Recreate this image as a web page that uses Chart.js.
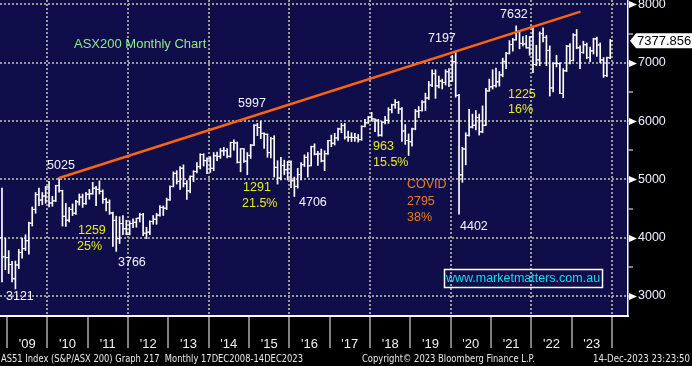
<!DOCTYPE html>
<html><head><meta charset="utf-8">
<script src="https://cdn.jsdelivr.net/npm/chart.js@4.4.1/dist/chart.umd.min.js"></script>
<style>html,body{margin:0;padding:0;background:#000;overflow:hidden}#wrap{position:relative;width:692px;height:366px}</style>
</head><body><div id="wrap"><canvas id="c" width="692" height="366"></canvas></div>
<script>
// ---- DATA (monthly OHLC, ASX200, Nov-2008 .. Dec-2023) ----
const startYear = 2008, startMonth = 11;
const opens = [4000,3672,
 3659,3540,3296,3532,3745,3813,3948,4249,4484,4739,4646,4715,
 4870,4596,4632,4893,4807,4367,4301,4485,4420,4616,4697,4584,
 4745,4753,4849,4829,4795,4656,4608,4424,4297,3984,4243,4152,
 4057,4244,4264,4335,4396,4076,4095,4278,4316,4387,4519,4506,
 4649,4879,5104,4967,5191,4926,4803,5052,5135,5218,5426,5321,
 5352,5190,5405,5395,5489,5492,5396,5633,5625,5293,5526,5313,
 5411,5588,5929,5891,5790,5774,5459,5699,5207,5022,5239,5166,
 5296,4977,4881,5083,5253,5378,5233,5562,5433,5436,5317,5440,
 5666,5621,5712,5865,5924,5724,5721,5720,5715,5682,5909,5970,
 6065,6037,6016,5759,5982,6012,6195,6280,6320,6208,5830,5667,
 5646,5865,6169,6181,6326,6397,6619,6813,6604,6688,6663,6846,
 6684,7017,6441,5077,5522,5756,5898,5928,6061,5816,5928,6518,
 6587,6607,6673,6791,7025,7162,7313,7393,7535,7332,7324,7256,
 7445,6971,7049,7500,7435,7212,6568,6993,6986,6474,6863,7284,
 7039,7476,7258,7178,7309,7091,7203,7410,7305,7049,6781,7087];
const highs = [4850,3990,
 3779,3593,3600,3800,3995,4050,4270,4527,4775,4850,4775,4880,
 4968,4710,4900,5025,4815,4590,4520,4580,4640,4750,4750,4780,
 4830,4950,4880,4975,4820,4680,4650,4440,4370,4360,4380,4300,
 4290,4325,4335,4420,4420,4180,4290,4380,4420,4550,4545,4680,
 4890,5130,5150,5220,5250,4980,5060,5150,5290,5440,5440,5370,
 5390,5460,5470,5530,5550,5530,5640,5680,5640,5530,5530,5460,
 5600,5940,5960,5997,5800,5780,5720,5750,5320,5380,5330,5310,
 5320,5040,5190,5290,5420,5460,5570,5610,5480,5520,5490,5670,
 5760,5790,5880,5960,5960,5830,5800,5790,5770,5920,6030,6080,
 6150,6040,6030,5990,6080,6230,6290,6370,6340,6230,5940,5780,
 5880,6200,6250,6350,6480,6680,6880,6880,6770,6720,6880,6900,
 7130,7197,6460,5550,5800,6200,6120,6180,6120,6260,6560,6720,
 6880,6910,6850,7080,7180,7380,7420,7632,7540,7450,7470,7450,
 7600,7300,7530,7600,7470,7290,7000,7130,7000,6900,7300,7330,
 7500,7570,7290,7370,7340,7270,7420,7440,7340,7090,7100,7400];
const lows = [3240,3450,
 3385,3240,3121,3470,3650,3780,3719,4200,4420,4549,4565,4590,
 4530,4540,4620,4780,4200,4195,4270,4380,4400,4560,4520,4570,
 4660,4745,4550,4750,4590,4460,4400,3850,3766,3900,4050,4050,
 4050,4170,4180,4270,4035,3985,4050,4230,4230,4370,4380,4480,
 4640,4870,4920,4830,4870,4656,4770,4960,5110,5180,5230,5100,
 5120,5150,5320,5360,5410,5370,5380,5500,5280,5130,5290,5080,
 5360,5580,5750,5700,5530,5380,5370,5040,4920,4990,5080,4990,
 4860,4706,4850,4990,5220,5040,5230,5420,5240,5300,5150,5430,
 5560,5590,5670,5800,5690,5650,5650,5650,5640,5670,5900,5960,
 6000,5820,5740,5740,5950,5960,6140,6220,6130,5650,5600,5410,
 5570,5850,6060,6170,6180,6370,6590,6390,6570,6550,6620,6590,
 6680,6410,4402,4950,5250,5740,5880,5850,5760,5800,5920,6510,
 6550,6580,6600,6760,6900,7150,7200,7390,7240,7290,7250,7130,
 6830,6950,6950,7360,6950,6430,6500,6930,6470,6400,6850,6980,
 7030,7240,6900,7160,7070,7020,7150,7110,7000,6750,6760,7070];
const closes = [3672,3659,
 3540,3296,3532,3745,3813,3948,4249,4484,4739,4646,4715,4870,
 4596,4632,4893,4807,4367,4301,4485,4420,4616,4697,4584,4745,
 4753,4849,4829,4795,4656,4608,4424,4297,3984,4243,4152,4057,
 4244,4264,4335,4396,4076,4095,4278,4316,4387,4519,4506,4649,
 4879,5104,4967,5191,4926,4803,5052,5135,5218,5426,5321,5352,
 5190,5405,5395,5489,5492,5396,5633,5625,5293,5526,5313,5411,
 5588,5929,5891,5790,5774,5459,5699,5207,5022,5239,5166,5296,
 4977,4881,5083,5253,5378,5233,5562,5433,5436,5317,5440,5666,
 5621,5712,5865,5924,5724,5721,5720,5715,5682,5909,5970,6065,
 6037,6016,5759,5982,6012,6195,6280,6320,6208,5830,5667,5646,
 5865,6169,6181,6326,6397,6619,6813,6604,6688,6663,6846,6684,
 7017,6441,5077,5522,5756,5898,5928,6061,5816,5928,6518,6587,
 6607,6673,6791,7025,7162,7313,7393,7535,7332,7324,7256,7445,
 6971,7049,7500,7435,7212,6568,6993,6986,6474,6863,7284,7039,
 7476,7258,7178,7309,7091,7203,7410,7305,7049,6781,7087,7377.856];
const lastPrice = 7377.856;
const yearTicks = [2009,2010,2011,2012,2013,2014,2015,2016,2017,2018,2019,2020,2021,2022,2023,2024];
const valueTicks = [3000,3500,4000,4500,5000,5500,6000,6500,7000,7500,8000];
const trendYears = [2010.29, 2023.22];
const trendValues = [5025, 7877];
const annoText   = ['ASX200 Monthly Chart','5025','1259','25%','3766','3121','5997','1291','21.5%','4706','963','15.5%','7197','COVID','2795','38%','4402','7632','1225','16%'];
const annoYear   = [2010.661,2009.992,2010.760,2010.736,2011.752,2008.975,2014.728,2014.852,2014.827,2016.240,2018.075,2018.075,2019.439,2018.918,2018.918,2018.918,2020.232,2021.224,2021.422,2021.422];
const annoValue  = [7322,5230,4115,3840,3566,2983,6293,4852,4578,4595,5556,5281,7408,4904,4612,4338,4183,7820,6448,6190];
const annoKind   = ['title','w','y','y','w','w','w','y','y','w','y','y','w','o','o','o','w','w','y','y'];
const urlText = 'www.marketmatters.com.au', urlYear = 2021.794, urlValue = 3309;
const footLeft = 'AS51 Index (S&P/ASX 200) Graph 217  Monthly 17DEC2008-14DEC2023';
const footMid = 'Copyright\u00A9 2023 Bloomberg Finance L.P.';
const footRight = '14-Dec-2023 23:23:50';

// ---- build ----
const times = closes.map((_, i) => { const m = startMonth - 1 + i; return startYear + Math.floor(m / 12) + ((m % 12) + 0.5) / 12; });
const TICK_OFF = 0.037;
const rangeData = times.map((t, i) => ({x: t, y: [lows[i], highs[i]]}));
const openData = times.map((t, i) => ({x: t - TICK_OFF, y: opens[i]}));
const closeData = times.map((t, i) => ({x: t + TICK_OFF, y: closes[i]}));
const trendData = trendYears.map((t, i) => ({x: t, y: trendValues[i]}));

const NAVY = '#100e4a', GRID = '#9a9a9a', FONT = '"Liberation Sans", Arial, sans-serif';
const colors = {title: '#8fe88f', w: '#f4f4ff', y: '#e6ec1c', o: '#ec7a1e'};

const deco = {
  id: 'deco',
  beforeDraw(chart) {
    const {ctx, chartArea: a} = chart;
    ctx.save();
    ctx.fillStyle = '#000'; ctx.fillRect(0, 0, chart.width, chart.height);
    ctx.fillStyle = NAVY; ctx.fillRect(a.left, a.top, a.right - a.left, a.bottom - a.top);
    ctx.restore();
  },
  afterDraw(chart) {
    const {ctx, chartArea: a} = chart;
    const xs = chart.scales.x, ys = chart.scales.y;
    ctx.save();
    ctx.fillStyle = '#ffffff';
    valueTicks.filter(v => v % 1000 === 0).forEach(v => {
      const py = Math.round(ys.getPixelForValue(v)) + 0.5;
      ctx.beginPath(); ctx.moveTo(a.right + 1, py - 3.5); ctx.lineTo(a.right + 9, py); ctx.lineTo(a.right + 1, py + 3.5); ctx.closePath(); ctx.fill();
    });
    const lp = ys.getPixelForValue(lastPrice);
    ctx.beginPath();
    ctx.moveTo(a.right + 2, lp); ctx.lineTo(a.right + 8, lp - 7.5); ctx.lineTo(chart.width, lp - 7.5);
    ctx.lineTo(chart.width, lp + 7.5); ctx.lineTo(a.right + 8, lp + 7.5); ctx.closePath();
    ctx.fillStyle = '#ffffff'; ctx.fill();
    ctx.fillStyle = '#000'; ctx.font = '13px ' + FONT; ctx.textBaseline = 'middle'; ctx.textAlign = 'left';
    ctx.fillText(lastPrice.toFixed(3), a.right + 9, lp + 1);
    ctx.textBaseline = 'middle'; ctx.textAlign = 'left';
    annoText.forEach((t, i) => {
      ctx.font = (annoKind[i] === 'title' ? '13px ' : '12.5px ') + FONT;
      ctx.fillStyle = colors[annoKind[i]];
      ctx.fillText(t, xs.getPixelForValue(annoYear[i]), ys.getPixelForValue(annoValue[i]));
    });
    const ux = xs.getPixelForValue(urlYear), uy = ys.getPixelForValue(urlValue);
    ctx.font = '12.5px ' + FONT; ctx.textAlign = 'center';
    ctx.fillStyle = '#12dcec'; ctx.fillText(urlText, ux, uy + 1);
    ctx.strokeStyle = '#ffffff'; ctx.lineWidth = 1.5;
    ctx.strokeRect(Math.round(ux - 79) + 0.5, Math.round(uy - 9) + 0.5, 158, 18);
    ctx.fillStyle = '#e8e8e8'; ctx.font = '11px "DejaVu Sans", sans-serif'; ctx.textBaseline = 'middle';
    ctx.textAlign = 'left'; ctx.fillText(footLeft, 1, 359, 302);
    ctx.fillText(footMid, 362, 359, 173);
    ctx.fillText(footRight, 593, 359, 97);
    ctx.restore();
  }
};

new Chart(document.getElementById('c'), {
  type: 'bar',
  data: {datasets: [
    {type: 'line', data: trendData, borderColor: '#ff6410', borderWidth: 2.5, pointRadius: 0, order: 0},
    {type: 'line', data: openData, showLine: false, pointStyle: 'line', pointRadius: 1, pointBorderWidth: 1, pointBorderColor: '#ffffff', order: 1},
    {type: 'line', data: closeData, showLine: false, pointStyle: 'line', pointRadius: 1, pointBorderWidth: 1, pointBorderColor: '#ffffff', order: 1},
    {type: 'bar', data: rangeData, backgroundColor: '#ffffff', borderWidth: 0, barThickness: 1, grouped: false, order: 2}
  ]},
  options: {
    responsive: false, animation: false, events: [], devicePixelRatio: 1,
    layout: {padding: 0, autoPadding: false},
    plugins: {legend: {display: false}, tooltip: {enabled: false}, title: {display: false}},
    scales: {
      x: {
        type: 'linear', position: 'bottom', min: 2008.826, max: 2024.398, offset: false,
        afterBuildTicks: s => { s.ticks = yearTicks.map(v => ({value: v})); },
        afterFit: s => { s.height = 50; s.paddingLeft = 0; s.paddingRight = 0; },
        grid: {
          offset: false,
          color: c => (c.tick && c.tick.value % 2 === 0) ? GRID : 'rgba(0,0,0,0)',
          lineWidth: 2, drawTicks: true, tickLength: 32, tickColor: '#ffffff', tickWidth: 1, tickBorderDash: []
        },
        border: {display: true, color: '#ffffff', width: 2, dash: [2, 2]},
        ticks: {
          autoSkip: false, maxRotation: 0, labelOffset: 20.17, padding: -11,
          color: '#f0f0f0', font: {family: 'Liberation Sans', size: 13},
          callback: v => v === 2024 ? '' : "'" + String(v % 100).padStart(2, '0')
        }
      },
      y: {
        type: 'linear', position: 'right', min: 2657, max: 8077,
        afterBuildTicks: s => { s.ticks = valueTicks.map(v => ({value: v})); },
        afterFit: s => { s.width = 64; s.paddingTop = 0; s.paddingBottom = 0; },
        grid: {
          color: c => (c.tick && c.tick.value % 1000 === 0) ? GRID : 'rgba(0,0,0,0)',
          lineWidth: 2, drawTicks: true, tickLength: 5, tickColor: '#ffffff', tickWidth: 1, tickBorderDash: []
        },
        border: {display: true, color: '#ffffff', width: 1.5, dash: [2, 2]},
        ticks: {
          autoSkip: false, padding: 5, color: '#f0f0ff', font: {family: 'Liberation Sans', size: 12.5},
          callback: v => v % 1000 === 0 ? String(v) : ''
        }
      }
    }
  },
  plugins: [deco]
});
</script></body></html>
